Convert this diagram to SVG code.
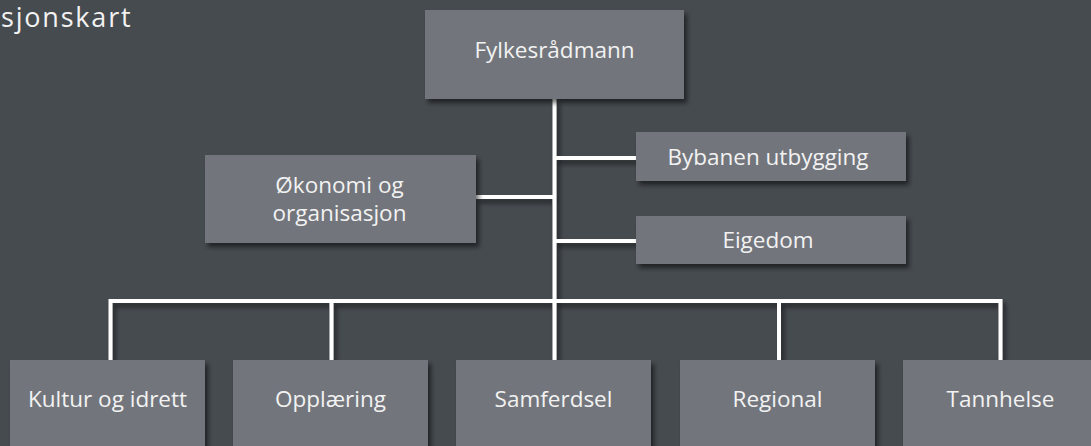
<svg xmlns="http://www.w3.org/2000/svg" width="1091" height="446" viewBox="0 0 1091 446">
<defs>
<filter id="sh" x="-10%" y="-10%" width="130%" height="140%">
<feDropShadow dx="3" dy="4" stdDeviation="2.5" flood-color="#000" flood-opacity="0.55"/>
</filter>
</defs>
<style>
.box{fill:#72767b;filter:url(#sh)}
.t{font-family:"Open Sans","DejaVu Sans",sans-serif;font-size:22.5px;fill:#f2f2f2;text-anchor:middle}
.ln{stroke:#ffffff;stroke-width:4;fill:none}
</style>
<rect x="0" y="0" width="1091" height="446" fill="#464b50"/>
<text x="1" y="27" font-family="Open Sans, DejaVu Sans, sans-serif" font-size="27" letter-spacing="1.8" fill="#f2f2f2">sjonskart</text>
<g id="connectors" filter="url(#sh)">
<path class="ln" d="M554.5 99 V301 M476 197 H554.5 M554.5 158 H636 M554.5 241 H636 M110.5 360 V301 H1000.5 V360 M331.5 301 V360 M554.5 301 V360 M779 301 V360"/>
</g>
<g id="fylkesradmann"><rect class="box" x="425" y="10" width="259" height="89"/><text class="t" x="554.5" y="58">Fylkesrådmann</text></g>
<g id="okonomi"><rect class="box" x="205" y="155" width="271" height="88"/><text class="t" x="339.5" y="193">Økonomi og</text><text class="t" x="339.5" y="221">organisasjon</text></g>
<g id="bybanen"><rect class="box" x="636" y="132" width="270" height="49"/><text class="t" x="768" y="165">Bybanen utbygging</text></g>
<g id="eigedom"><rect class="box" x="636" y="216" width="270" height="48"/><text class="t" x="768" y="248">Eigedom</text></g>
<g id="kultur"><rect class="box" x="10" y="360" width="195" height="100"/><text class="t" x="107.5" y="407">Kultur og idrett</text></g>
<g id="opplaering"><rect class="box" x="233" y="360" width="195" height="100"/><text class="t" x="330.5" y="407">Opplæring</text></g>
<g id="samferdsel"><rect class="box" x="456" y="360" width="195" height="100"/><text class="t" x="553.5" y="407">Samferdsel</text></g>
<g id="regional"><rect class="box" x="680" y="360" width="195" height="100"/><text class="t" x="777.5" y="407">Regional</text></g>
<g id="tannhelse"><rect class="box" x="903" y="360" width="195" height="100"/><text class="t" x="1000.5" y="407">Tannhelse</text></g>
</svg>
